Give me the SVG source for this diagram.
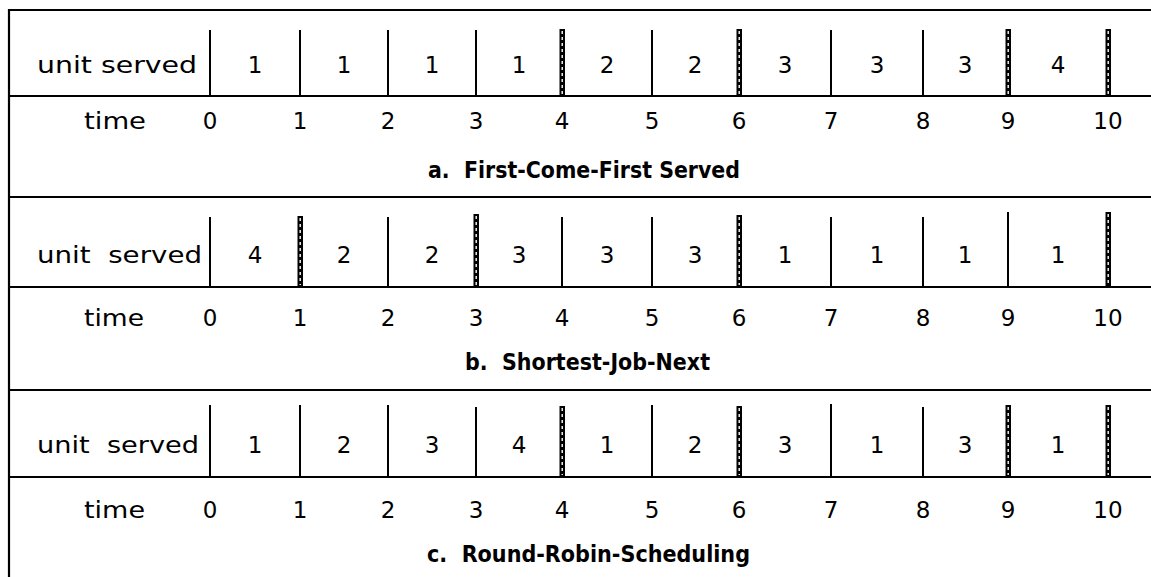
<svg xmlns="http://www.w3.org/2000/svg" width="1151" height="577" viewBox="0 0 1151 577">
<style>
.frame{stroke:#000;stroke-width:2.2;fill:none}
.thin{stroke:#000;stroke-width:2}
.hb{fill:#000}
.hf{stroke:#fff;stroke-width:1.4;stroke-dasharray:3 3}
text{font-family:"DejaVu Sans","Liberation Sans",Arial,sans-serif;fill:#000;white-space:pre}
.lbl{font-size:23px}
.num{font-size:23px;text-anchor:middle}
.cap{font-size:23px;font-weight:bold}
</style>
<rect width="1151" height="577" fill="#fff"/>
<g id="frame">
<path class="frame" d="M9,577 V10 H1151 M9,96 H1151 M9,197 H1151 M9,287 H1151 M9,390 H1151 M9,477 H1151"/>
</g>
<g id="section-a">
<text class="lbl" x="37" y="73" textLength="160" lengthAdjust="spacingAndGlyphs">unit served</text>
<text class="lbl" x="84" y="129" textLength="62" lengthAdjust="spacingAndGlyphs">time</text>
<g class="num">
<text x="255" y="73">1</text><text x="344" y="73">1</text><text x="432" y="73">1</text><text x="519" y="73">1</text>
<text x="607" y="73">2</text><text x="695" y="73">2</text><text x="785" y="73">3</text><text x="877" y="73">3</text>
<text x="965" y="73">3</text><text x="1058" y="73">4</text>
<text x="210" y="129">0</text><text x="300" y="129">1</text><text x="388" y="129">2</text><text x="476" y="129">3</text>
<text x="562" y="129">4</text><text x="652" y="129">5</text><text x="739" y="129">6</text><text x="831" y="129">7</text>
<text x="923" y="129">8</text><text x="1008" y="129">9</text><text x="1108" y="129">10</text>
</g>
<text class="cap" x="428" y="178" textLength="312" lengthAdjust="spacingAndGlyphs" xml:space="preserve">a.  First-Come-First Served</text>
<path class="thin" d="M210,30V96 M300,30V96 M388,30V96 M476,30V96 M652,30V96 M831,30V96 M923,30V96"/>
<g class="hb"><rect x="559.5" y="29" width="5.5" height="67"/><rect x="736.5" y="29" width="5.5" height="67"/><rect x="1005.5" y="29" width="5.5" height="67"/><rect x="1105.5" y="29" width="5.5" height="67"/></g>
<path class="hf" d="M562.2,31V94 M739.2,31V94 M1008.2,31V94 M1108.2,31V94"/>
</g>
<g id="section-b">
<text class="lbl" x="37" y="263" textLength="165" lengthAdjust="spacingAndGlyphs" xml:space="preserve">unit  served</text>
<text class="lbl" x="84" y="326" textLength="60" lengthAdjust="spacingAndGlyphs">time</text>
<g class="num">
<text x="255" y="263">4</text><text x="344" y="263">2</text><text x="432" y="263">2</text><text x="519" y="263">3</text>
<text x="607" y="263">3</text><text x="695" y="263">3</text><text x="785" y="263">1</text><text x="877" y="263">1</text>
<text x="965" y="263">1</text><text x="1058" y="263">1</text>
<text x="210" y="326">0</text><text x="300" y="326">1</text><text x="388" y="326">2</text><text x="476" y="326">3</text>
<text x="562" y="326">4</text><text x="652" y="326">5</text><text x="739" y="326">6</text><text x="831" y="326">7</text>
<text x="923" y="326">8</text><text x="1008" y="326">9</text><text x="1108" y="326">10</text>
</g>
<text class="cap" x="465" y="370" textLength="245" lengthAdjust="spacingAndGlyphs" xml:space="preserve">b.  Shortest-Job-Next</text>
<path class="thin" d="M210,217V287 M388,217V287 M562,217V287 M652,217V287 M831,217V287 M923,217V287 M1008,212V287"/>
<g class="hb"><rect x="297.5" y="216" width="5.5" height="71"/><rect x="473.5" y="214" width="5.5" height="73"/><rect x="736.5" y="215" width="5.5" height="72"/><rect x="1105.5" y="212" width="5.5" height="75"/></g>
<path class="hf" d="M300.2,218V285 M476.2,216V285 M739.2,217V285 M1108.2,214V285"/>
</g>
<g id="section-c">
<text class="lbl" x="37" y="453" textLength="162" lengthAdjust="spacingAndGlyphs" xml:space="preserve">unit  served</text>
<text class="lbl" x="84" y="518" textLength="61" lengthAdjust="spacingAndGlyphs">time</text>
<g class="num">
<text x="255" y="453">1</text><text x="344" y="453">2</text><text x="432" y="453">3</text><text x="519" y="453">4</text>
<text x="607" y="453">1</text><text x="695" y="453">2</text><text x="785" y="453">3</text><text x="877" y="453">1</text>
<text x="965" y="453">3</text><text x="1058" y="453">1</text>
<text x="210" y="518">0</text><text x="300" y="518">1</text><text x="388" y="518">2</text><text x="476" y="518">3</text>
<text x="562" y="518">4</text><text x="652" y="518">5</text><text x="739" y="518">6</text><text x="831" y="518">7</text>
<text x="923" y="518">8</text><text x="1008" y="518">9</text><text x="1108" y="518">10</text>
</g>
<text class="cap" x="427" y="562" textLength="323" lengthAdjust="spacingAndGlyphs" xml:space="preserve">c.  Round-Robin-Scheduling</text>
<path class="thin" d="M210,405V477 M300,405V477 M388,405V477 M476,407V477 M652,405V477 M831,404V477 M923,407V477"/>
<g class="hb"><rect x="559.5" y="406" width="5.5" height="71"/><rect x="736.5" y="406" width="5.5" height="71"/><rect x="1005.5" y="405" width="5.5" height="72"/><rect x="1105.5" y="405" width="5.5" height="72"/></g>
<path class="hf" d="M562.2,408V475 M739.2,408V475 M1008.2,407V475 M1108.2,407V475"/>
</g>
</svg>
